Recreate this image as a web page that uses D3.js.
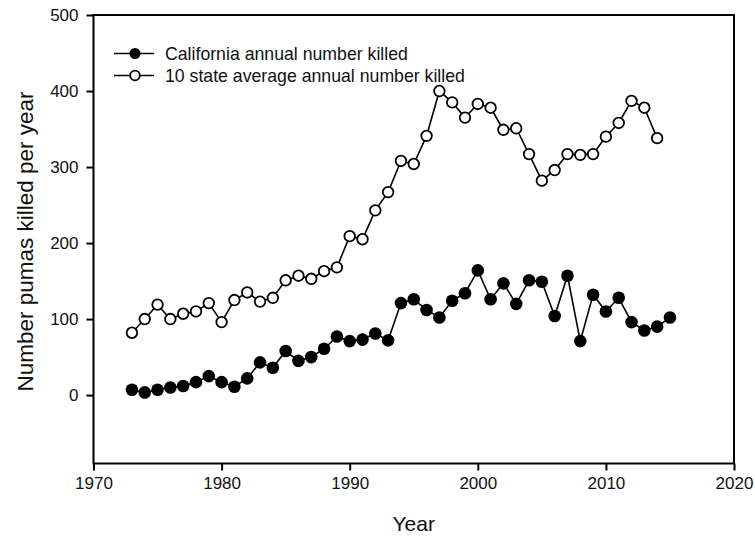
<!DOCTYPE html>
<html>
<head>
<meta charset="utf-8">
<script src="https://cdn.jsdelivr.net/npm/d3@7"></script>
<style>
  html, body { margin: 0; padding: 0; background: #fff; }
  svg { display: block; font-family: "Liberation Sans", Arial, sans-serif; }
</style>
</head>
<body>
<svg id="chart" width="755" height="540"></svg>
<script>
// Data
const caYears = d3.range(1973, 2016);
const caValues = [7, 3.5, 7, 10, 12, 17, 25, 17, 11, 22,
  43, 36, 58, 45, 50, 61, 77, 71, 73, 81,
  72, 121, 126, 112, 102, 124, 134, 164, 126, 147,
  120, 151, 149, 104, 157, 71, 132, 110, 128, 96,
  85, 90, 102];
const stYears = d3.range(1973, 2015);
const stValues = [82, 100, 119, 100, 107, 110, 121, 96, 125, 135,
  123, 128, 151, 157, 153, 163, 168, 209, 205, 243,
  267, 308, 304, 341, 400, 385, 365, 383, 378, 349,
  351, 317, 282, 296, 317, 316, 317, 340, 358, 387,
  378, 338];
const xTicks = [1970, 1980, 1990, 2000, 2010, 2020];
const yTicks = [0, 100, 200, 300, 400, 500];
const seriesNames = ["California annual number killed", "10 state average annual number killed"];

const svg = d3.select("#chart");
const x = d3.scaleLinear().domain([1970, 2020]).range([93.5, 734]);
const y = d3.scaleLinear().domain([-90, 500]).range([463.5, 15]);

// frame
svg.append("rect")
  .attr("x", x(1970)).attr("y", y(500))
  .attr("width", x(2020) - x(1970)).attr("height", y(-90) - y(500))
  .attr("fill", "none").attr("stroke", "#000").attr("stroke-width", 2);

// axes
const xAxis = d3.axisBottom(x).tickValues(xTicks).tickFormat(d3.format("d")).tickSize(7).tickPadding(6);
const gx = svg.append("g").attr("transform", `translate(0,${y(-90)})`).call(xAxis);
const yAxis = d3.axisLeft(y).tickValues(yTicks).tickSize(7).tickPadding(8);
const gy = svg.append("g").attr("transform", `translate(${x(1970)},0)`).call(yAxis);
[gx, gy].forEach(g => {
  g.select(".domain").remove();
  g.selectAll(".tick line").attr("stroke", "#000").attr("stroke-width", 2);
  g.selectAll(".tick text").attr("fill", "#111").style("font-size", "17px")
    .style("font-family", "'Liberation Sans', Arial, sans-serif");
});

// axis titles
svg.append("text").attr("x", (x(1970) + x(2020)) / 2).attr("y", 531)
  .attr("text-anchor", "middle").style("font-size", "21px").attr("fill", "#111").text("Year");
svg.append("text")
  .attr("transform", `translate(33,241.5) rotate(-90)`)
  .attr("text-anchor", "middle").style("font-size", "22.5px").attr("fill", "#111")
  .text("Number pumas killed per year");

// lines
const line = d3.line().x(d => x(d[0])).y(d => y(d[1]));
const caData = caYears.map((yr, i) => [yr, caValues[i]]);
const stData = stYears.map((yr, i) => [yr, stValues[i]]);

svg.append("path").datum(stData).attr("d", line)
  .attr("fill", "none").attr("stroke", "#000").attr("stroke-width", 1.6);
svg.append("path").datum(caData).attr("d", line)
  .attr("fill", "none").attr("stroke", "#000").attr("stroke-width", 1.6);

svg.append("g").selectAll("circle").data(stData).join("circle")
  .attr("cx", d => x(d[0])).attr("cy", d => y(d[1])).attr("r", 5.3)
  .attr("fill", "#fff").attr("stroke", "#000").attr("stroke-width", 1.8);
svg.append("g").selectAll("circle").data(caData).join("circle")
  .attr("cx", d => x(d[0])).attr("cy", d => y(d[1])).attr("r", 6.3)
  .attr("fill", "#000");

// legend
const legend = svg.append("g");
const rows = [{ name: seriesNames[0], filled: true, yy: 53.5 }, { name: seriesNames[1], filled: false, yy: 75.5 }];
rows.forEach(r => {
  legend.append("line").attr("x1", 114).attr("x2", 154).attr("y1", r.yy).attr("y2", r.yy)
    .attr("stroke", "#000").attr("stroke-width", 1.6);
  legend.append("circle").attr("cx", 135).attr("cy", r.yy).attr("r", r.filled ? 5.5 : 4.8)
    .attr("fill", r.filled ? "#000" : "#fff").attr("stroke", "#000").attr("stroke-width", r.filled ? 0 : 1.8);
  legend.append("text").attr("x", 165).attr("y", r.yy + 6.5).style("font-size", "17.7px")
    .attr("fill", "#111").text(r.name);
});
</script>
</body>
</html>
